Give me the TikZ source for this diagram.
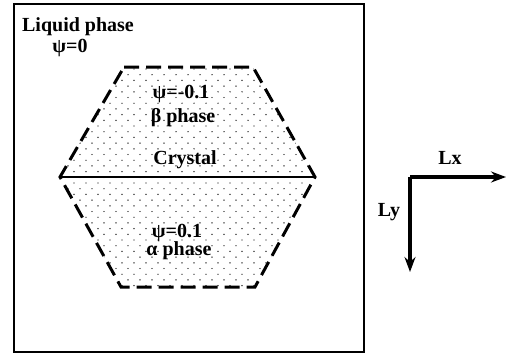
\documentclass[tikz,border=0pt]{standalone}
\usepackage{fontspec}
\setmainfont{Liberation Serif}
\usetikzlibrary{positioning, arrows.meta}

\begin{document}
\begin{tikzpicture}[
    x=1pt, y=-1pt,
    font=\fontsize{20}{22}\selectfont\bfseries,
    lbl/.style={inner sep=0pt, align=center},
    phase/.style={dash pattern=on 15pt off 7pt, line width=3pt},
    axis/.style={-{Stealth[length=15pt, width=11pt, inset=5pt]}, line width=3.2pt},
  ]
    \useasboundingbox (0,0) rectangle (510,359);
    % simulation box
    \draw[line width=2pt] (14,4) rectangle (364,352);
    % hexagon corners
    \coordinate (tl) at (124,67);
    \coordinate (tr) at (253,67);
    \coordinate (r)  at (315,177);
    \coordinate (br) at (255,287);
    \coordinate (bl) at (121,287);
    \coordinate (l)  at (60,177);
    % dotted crystal region
    \begin{scope}
      \clip (tl) -- (tr) -- (r) -- (br) -- (bl) -- (l) -- cycle;
      \foreach \j in {0,...,39}
        \foreach \i in {0,...,22}
          \fill ({62+12*\i+6*mod(\j,2)},{69+5.7*\j}) circle (0.7);
    \end{scope}
    \draw[phase] (tl) -- (tr) -- (r) -- (br) -- (bl) -- (l) -- cycle;
    \draw[line width=2.5pt] (l) -- (r);
    % labels
    \node[lbl] (liq)  at (78,27)  {Liquid phase};
    \node[lbl] (psi0) at (70,48)  {ψ=0};
    \node[lbl] (psib) at (181,94) {ψ=-0.1};
    \node[lbl] (beta) at (183,118) {β phase};
    \node[lbl] (cry)  at (185,160) {Crystal};
    \node[lbl] (psia) at (177,233) {ψ=0.1};
    \node[lbl] (alph) at (179,251) {α phase};
    % axes
    \coordinate (o)  at (410,177);
    \coordinate (ex) at (506,177);
    \coordinate (ey) at (410,272);
    \draw[axis] (o) -- (ex);
    \draw[axis] (o) -- (ey);
    \node[lbl] (lx) at (450,158) {Lx};
    \node[lbl] (ly) at (389,212) {Ly};
  \end{tikzpicture}
\end{document}
